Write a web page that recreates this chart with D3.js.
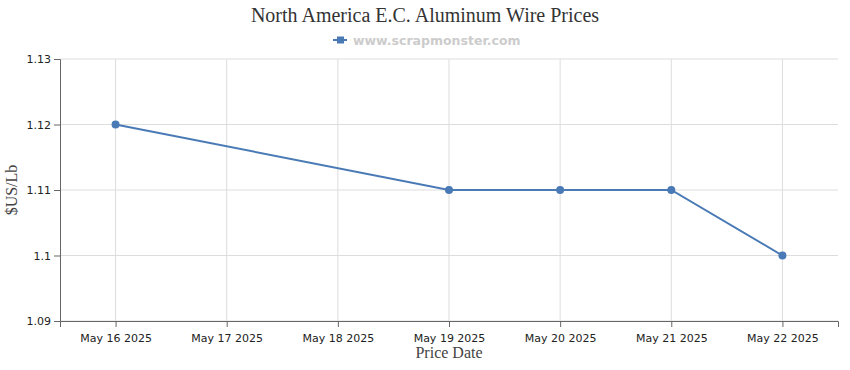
<!DOCTYPE html>
<html>
<head>
<meta charset="utf-8">
<script src="https://cdn.jsdelivr.net/npm/d3@7"></script>
<style>
  body { margin: 0; background: #fff; }
  svg { display: block; }
</style>
</head>
<body>
<div id="chart"></div>
<script>
// chart data
const dates = ["2025-05-16", "2025-05-19", "2025-05-20", "2025-05-21", "2025-05-22"];
const prices = [1.12, 1.11, 1.11, 1.11, 1.10];
const yTicks = [1.09, 1.10, 1.11, 1.12, 1.13];

const width = 850; const height = 370;
const margin = {top: 59, right: 12, bottom: 49, left: 60};
const innerWidth = width - margin.left - margin.right;
const innerHeight = height - margin.top - margin.bottom;
const lineColor = "#4a7ab5";

const parse = d3.timeParse("%Y-%m-%d");
const data = dates.map((d, i) => ({date: parse(d), value: prices[i]}));

const svg = d3.select("#chart").append("svg")
    .attr("width", width)
    .attr("height", height);

const g = svg.append("g")
    .attr("transform", `translate(${margin.left},${margin.top})`);

// half a day of padding on both ends
const x = d3.scaleTime()
    .domain([d3.timeHour.offset(data[0].date, -12), d3.timeHour.offset(data[data.length - 1].date, 12)])
    .range([0, innerWidth]);
const y = d3.scaleLinear()
    .domain([1.09, 1.13])
    .range([innerHeight, 0]);

const xTicks = d3.timeDay.range(data[0].date, d3.timeDay.offset(data[data.length - 1].date, 1));

// grid
g.append("g").selectAll("line")
    .data(xTicks).enter().append("line")
    .attr("x1", d => x(d)).attr("x2", d => x(d))
    .attr("y1", 0).attr("y2", innerHeight)
    .attr("stroke", "#dddddd");
g.append("g").selectAll("line")
    .data(yTicks).enter().append("line")
    .attr("x1", 0).attr("x2", innerWidth)
    .attr("y1", d => y(d)).attr("y2", d => y(d))
    .attr("stroke", "#dddddd");

// axes
const xAxis = d3.axisBottom(x).tickValues(xTicks)
    .tickFormat(d3.timeFormat("%b %-d %Y")).tickSizeOuter(0).tickSize(6);
const yAxis = d3.axisLeft(y).tickValues(yTicks)
    .tickFormat(d => String(+d.toFixed(2))).tickSizeOuter(0).tickSize(6);

const gx = g.append("g")
    .attr("transform", `translate(0,${innerHeight})`)
    .call(xAxis);
const gy = g.append("g").call(yAxis);

[gx, gy].forEach(a => {
    a.select(".domain").attr("stroke", "#666");
    a.selectAll(".tick line").attr("stroke", "#666");
    a.selectAll(".tick text")
        .attr("fill", "#222")
        .style("font-family", "'DejaVu Sans', Verdana, sans-serif")
        .style("font-size", "11px");
});
gx.selectAll(".tick text").attr("dy", "1.05em");

// line + points
const line = d3.line().x(d => x(d.date)).y(d => y(d.value));
g.append("path")
    .datum(data)
    .attr("fill", "none")
    .attr("stroke", lineColor)
    .attr("stroke-width", 2)
    .attr("d", line);
g.selectAll("circle")
    .data(data).enter().append("circle")
    .attr("cx", d => x(d.date))
    .attr("cy", d => y(d.value))
    .attr("r", 4)
    .attr("fill", lineColor);

// title
svg.append("text")
    .attr("x", 425).attr("y", 22)
    .attr("text-anchor", "middle")
    .style("font-family", "'Liberation Serif', 'Times New Roman', serif")
    .style("font-size", "20px")
    .attr("fill", "#333")
    .text("North America E.C. Aluminum Wire Prices");

// legend
const lg = svg.append("g").attr("transform", "translate(333,40)");
lg.append("line").attr("x1", 0).attr("x2", 14).attr("y1", 0).attr("y2", 0)
    .attr("stroke", lineColor).attr("stroke-width", 2);
lg.append("rect").attr("x", 4).attr("y", -3.5).attr("width", 7).attr("height", 7)
    .attr("fill", lineColor);
lg.append("text")
    .attr("x", 20).attr("y", 4.5)
    .style("font-family", "'DejaVu Sans', Verdana, sans-serif")
    .style("font-size", "12.5px")
    .style("font-weight", "bold")
    .attr("fill", "#cccccc")
    .text("www.scrapmonster.com");

// axis titles
svg.append("text")
    .attr("x", margin.left + innerWidth / 2).attr("y", 358)
    .attr("text-anchor", "middle")
    .style("font-family", "'Liberation Serif', 'Times New Roman', serif")
    .style("font-size", "16px")
    .attr("fill", "#444")
    .text("Price Date");
svg.append("text")
    .attr("transform", `translate(17,${margin.top + innerHeight / 2}) rotate(-90)`)
    .attr("text-anchor", "middle")
    .style("font-family", "'Liberation Serif', 'Times New Roman', serif")
    .style("font-size", "16px")
    .attr("fill", "#444")
    .text("$US/Lb");
</script>
</body>
</html>
